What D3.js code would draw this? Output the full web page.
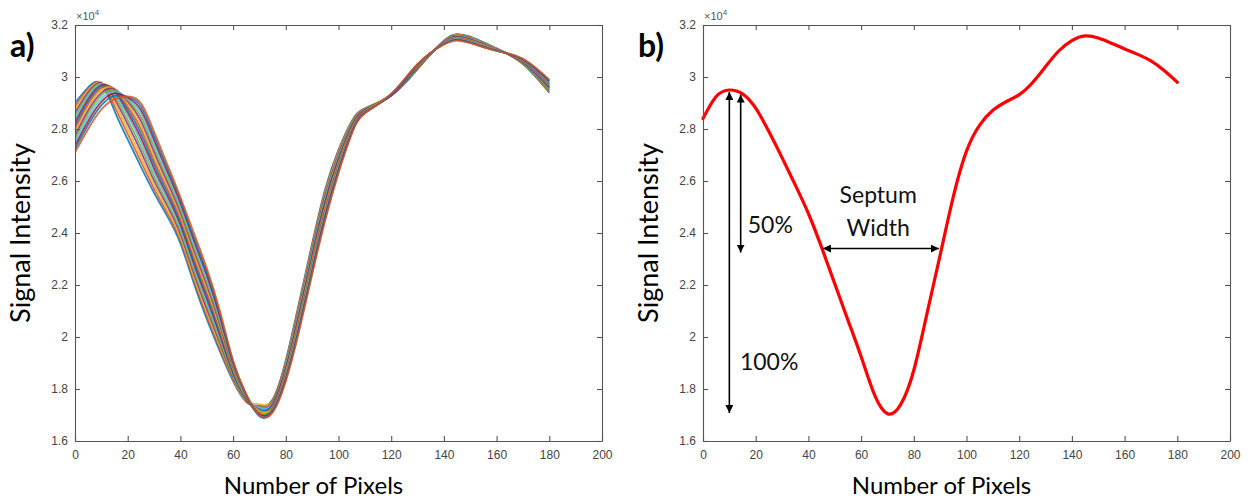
<!DOCTYPE html>
<html>
<head>
<meta charset="utf-8">
<script src="https://cdn.jsdelivr.net/npm/d3@7"></script>
<style>
  html, body { margin: 0; padding: 0; background: #fff; }
  svg { display: block; }
</style>
</head>
<body>
<svg id="chart" width="1254" height="501"></svg>
<script>
// ---------------- DATA (signal intensity in units of 10^4) ----------------
const pixelsA = [0,5,10,15,20,25,30,35,40,45,50,55,60,65,70,75,80,85,90,95,100,105,110,120,130,140,145,150,160,170,180];

const seriesA01 = [2.900,2.960,2.975,2.870,2.760,2.655,2.555,2.465,2.360,2.210,2.070,1.945,1.830,1.750,1.735,1.760,1.910,2.130,2.360,2.570,2.720,2.830,2.880,2.928,3.030,3.140,3.165,3.155,3.110,3.050,2.940];
const seriesA02 = [2.887,2.954,2.977,2.888,2.781,2.675,2.571,2.478,2.372,2.223,2.083,1.955,1.835,1.752,1.730,1.757,1.905,2.123,2.352,2.562,2.714,2.827,2.879,2.930,3.031,3.139,3.163,3.153,3.109,3.051,2.943];
const seriesA03 = [2.875,2.948,2.978,2.904,2.800,2.695,2.586,2.492,2.384,2.235,2.096,1.966,1.841,1.754,1.742,1.753,1.899,2.115,2.344,2.554,2.708,2.823,2.877,2.931,3.033,3.138,3.162,3.152,3.109,3.053,2.947];
const seriesA04 = [2.862,2.941,2.977,2.917,2.819,2.714,2.602,2.505,2.396,2.248,2.109,1.976,1.846,1.756,1.725,1.750,1.894,2.108,2.336,2.546,2.702,2.820,2.876,2.929,3.034,3.137,3.160,3.150,3.108,3.054,2.950];
const seriesA05 = [2.849,2.933,2.975,2.929,2.835,2.732,2.618,2.518,2.408,2.261,2.122,1.986,1.851,1.758,1.718,1.747,1.889,2.101,2.328,2.538,2.696,2.817,2.875,2.932,3.035,3.136,3.158,3.148,3.107,3.055,2.953];
const seriesA06 = [2.837,2.925,2.973,2.938,2.851,2.750,2.633,2.532,2.420,2.273,2.135,1.997,1.857,1.760,1.728,1.743,1.883,2.093,2.320,2.530,2.690,2.813,2.873,2.930,3.037,3.135,3.157,3.147,3.107,3.057,2.957];
const seriesA07 = [2.824,2.915,2.969,2.946,2.864,2.767,2.649,2.545,2.432,2.286,2.148,2.007,1.862,1.762,1.712,1.740,1.878,2.086,2.312,2.522,2.684,2.810,2.872,2.933,3.038,3.134,3.155,3.145,3.106,3.058,2.960];
const seriesA08 = [2.811,2.905,2.963,2.951,2.877,2.784,2.665,2.558,2.444,2.299,2.161,2.017,1.867,1.764,1.720,1.737,1.873,2.079,2.304,2.514,2.678,2.807,2.871,2.931,3.039,3.133,3.153,3.143,3.105,3.059,2.963];
const seriesA09 = [2.799,2.895,2.957,2.954,2.888,2.801,2.680,2.572,2.456,2.311,2.174,2.027,1.873,1.766,1.705,1.733,1.867,2.071,2.296,2.506,2.672,2.803,2.869,2.934,3.041,3.132,3.152,3.142,3.105,3.061,2.967];
const seriesA10 = [2.786,2.883,2.949,2.955,2.897,2.816,2.696,2.585,2.468,2.324,2.187,2.038,1.878,1.768,1.715,1.730,1.862,2.064,2.288,2.498,2.666,2.800,2.868,2.932,3.042,3.131,3.150,3.140,3.104,3.062,2.970];
const seriesA11 = [2.773,2.871,2.939,2.953,2.906,2.831,2.712,2.598,2.480,2.337,2.200,2.048,1.883,1.770,1.700,1.727,1.857,2.057,2.280,2.490,2.660,2.797,2.867,2.930,3.043,3.130,3.148,3.138,3.103,3.063,2.973];
const seriesA12 = [2.761,2.859,2.929,2.950,2.912,2.847,2.727,2.612,2.492,2.349,2.213,2.058,1.889,1.772,1.708,1.723,1.851,2.049,2.272,2.482,2.654,2.793,2.865,2.935,3.045,3.129,3.147,3.137,3.103,3.065,2.977];
const seriesA13 = [2.748,2.845,2.917,2.944,2.918,2.861,2.743,2.625,2.504,2.362,2.226,2.069,1.894,1.774,1.698,1.720,1.846,2.042,2.264,2.474,2.648,2.790,2.864,2.933,3.046,3.128,3.145,3.135,3.102,3.066,2.980];
const seriesA14 = [2.735,2.830,2.904,2.937,2.921,2.874,2.759,2.638,2.516,2.375,2.239,2.079,1.899,1.776,1.703,1.717,1.841,2.035,2.256,2.466,2.642,2.787,2.863,2.931,3.047,3.127,3.143,3.133,3.101,3.067,2.983];
const seriesA15 = [2.723,2.816,2.891,2.927,2.924,2.888,2.774,2.652,2.528,2.387,2.252,2.089,1.905,1.778,1.695,1.713,1.835,2.027,2.248,2.458,2.636,2.783,2.861,2.934,3.049,3.126,3.142,3.132,3.101,3.069,2.987];
const seriesA16 = [2.710,2.800,2.875,2.915,2.925,2.900,2.790,2.665,2.538,2.403,2.265,2.100,1.910,1.780,1.700,1.710,1.830,2.020,2.240,2.450,2.630,2.780,2.860,2.935,3.050,3.125,3.140,3.130,3.100,3.070,2.990];

const pixelsB = [0,5,10,15,20,25,30,35,40,45,50,55,60,65,70,75,80,85,90,95,100,105,110,115,120,125,130,135,140,145,150,155,160,165,170,175,180];
const intensityB = [2.840,2.925,2.950,2.935,2.880,2.790,2.690,2.585,2.475,2.345,2.205,2.065,1.925,1.780,1.705,1.740,1.872,2.090,2.315,2.540,2.715,2.815,2.872,2.905,2.932,2.978,3.040,3.100,3.140,3.158,3.150,3.130,3.108,3.087,3.062,3.025,2.980];

const xTicks = [0,20,40,60,80,100,120,140,160,180,200];
const yTicks = [1.6,1.8,2.0,2.2,2.4,2.6,2.8,3.0,3.2];
const yTickLabels = ["1.6","1.8","2","2.2","2.4","2.6","2.8","3","3.2"];
const matlabColors = ["#0072BD","#D95319","#EDB120","#7E2F8E","#77AC30","#4DBEEE","#A2142F"];

// annotation values for panel b
const peakPixel = 10, peakValue = 2.95;
const halfPixel = 14.3, halfTopValue = 2.94;
const minValue = 1.70;
const halfLevel = 2.325;
const septumLeft = 45.5, septumRight = 89.5;

const seriesA = [seriesA01,seriesA02,seriesA03,seriesA04,seriesA05,seriesA06,seriesA07,seriesA08,
                 seriesA09,seriesA10,seriesA11,seriesA12,seriesA13,seriesA14,seriesA15,seriesA16];

// ---------------- LAYOUT ----------------
const svg = d3.select("#chart");
const plotTop = 25, plotBottom = 441;
const panels = [{left: 75, right: 602, label: "a)"}, {left: 703, right: 1230, label: "b)"}];
const titleFont = "Lato, 'Open Sans', sans-serif";
const tickFont = "'Liberation Sans', Arial, sans-serif";

const defs = svg.append("defs");
defs.append("marker").attr("id", "arrow")
  .attr("viewBox", "0 0 10 10").attr("refX", 10).attr("refY", 5)
  .attr("markerWidth", 8).attr("markerHeight", 8)
  .attr("markerUnits", "userSpaceOnUse")
  .attr("orient", "auto-start-reverse")
  .append("path").attr("d", "M0,0 L10,5 L0,10 z").attr("fill", "#000");

function drawPanel(p, idx) {
  const x = d3.scaleLinear().domain([0, 200]).range([p.left, p.right]);
  const y = d3.scaleLinear().domain([1.6, 3.2]).range([plotBottom, plotTop]);
  const g = svg.append("g");

  const line = d3.line()
    .x((d) => x(d[0])).y((d) => y(d[1]))
    .curve(d3.curveNatural);

  const clip = "clip" + idx;
  defs.append("clipPath").attr("id", clip).append("rect")
    .attr("x", p.left).attr("y", plotTop).attr("width", p.right - p.left).attr("height", plotBottom - plotTop);

  if (idx === 0) {
    g.append("g").attr("clip-path", `url(#${clip})`)
      .selectAll("path").data(seriesA).join("path")
      .attr("d", (s) => line(pixelsA.map((px, i) => [px, s[i]])))
      .attr("fill", "none")
      .attr("stroke", (s, i) => matlabColors[i % matlabColors.length])
      .attr("stroke-width", 1.8)
      .attr("stroke-opacity", 0.85);
  } else {
    g.append("path")
      .attr("d", line(pixelsB.map((px, i) => [px, intensityB[i]])))
      .attr("fill", "none").attr("stroke", "#ff0000").attr("stroke-width", 3.2)
      .attr("stroke-linecap", "round");

    const ann = g.append("g").attr("stroke", "#000").attr("stroke-width", 1.6);
    ann.append("line")
      .attr("x1", x(peakPixel)).attr("x2", x(peakPixel))
      .attr("y1", y(peakValue) + 2).attr("y2", y(minValue) - 2)
      .attr("marker-start", "url(#arrow)").attr("marker-end", "url(#arrow)");
    ann.append("line")
      .attr("x1", x(halfPixel)).attr("x2", x(halfPixel))
      .attr("y1", y(halfTopValue) + 2).attr("y2", y(halfLevel))
      .attr("marker-start", "url(#arrow)").attr("marker-end", "url(#arrow)");
    ann.append("line")
      .attr("x1", x(septumLeft)).attr("x2", x(septumRight))
      .attr("y1", y(halfLevel) - 4).attr("y2", y(halfLevel) - 4)
      .attr("marker-start", "url(#arrow)").attr("marker-end", "url(#arrow)");

    const t = g.append("g").attr("font-family", titleFont).attr("font-size", 23).attr("fill", "#111");
    t.append("text").attr("x", x(17)).attr("y", y(2.4)).text("50%");
    t.append("text").attr("x", x(14)).attr("y", y(1.873)).text("100%");
    t.append("text").attr("x", x(66.5)).attr("y", y(2.515)).attr("text-anchor", "middle").text("Septum");
    t.append("text").attr("x", x(66.5)).attr("y", y(2.388)).attr("text-anchor", "middle").text("Width");
  }

  // axes (box with inward ticks)
  const axisColor = "#555";
  const bottomAxis = d3.axisBottom(x).tickValues(xTicks).tickSizeInner(-5).tickSizeOuter(0).tickPadding(9);
  const leftAxis = d3.axisLeft(y).tickValues(yTicks).tickSizeInner(-5).tickSizeOuter(0).tickPadding(7)
    .tickFormat((d, i) => yTickLabels[i]);
  const topAxis = d3.axisTop(x).tickValues(xTicks).tickSizeInner(-5).tickSizeOuter(0).tickFormat("");
  const rightAxis = d3.axisRight(y).tickValues(yTicks).tickSizeInner(-5).tickSizeOuter(0).tickFormat("");

  const axes = [
    g.append("g").attr("transform", `translate(0,${plotBottom})`).call(bottomAxis),
    g.append("g").attr("transform", `translate(${p.left},0)`).call(leftAxis),
    g.append("g").attr("transform", `translate(0,${plotTop})`).call(topAxis),
    g.append("g").attr("transform", `translate(${p.right},0)`).call(rightAxis)
  ];
  axes.forEach((a) => {
    a.selectAll("path,line").attr("stroke", axisColor).attr("stroke-width", 1.1);
    a.selectAll("text").attr("fill", "#444").attr("font-family", tickFont).attr("font-size", 12);
  });

  // exponent label
  const ex = g.append("text").attr("x", p.left + 1).attr("y", 20)
    .attr("font-family", tickFont).attr("font-size", 11).attr("fill", "#555");
  ex.append("tspan").text("×10");
  ex.append("tspan").attr("font-size", 8).attr("dy", -5).text("4");

  // titles
  g.append("text").attr("x", (p.left + p.right) / 2 - 25).attr("y", 494)
    .attr("text-anchor", "middle").attr("font-family", titleFont).attr("font-size", 24).attr("fill", "#000")
    .text("Number of Pixels");
  g.append("text")
    .attr("transform", `translate(${p.left - 45},${(plotTop + plotBottom) / 2}) rotate(-90)`)
    .attr("text-anchor", "middle").attr("font-family", titleFont).attr("font-size", 27).attr("fill", "#000")
    .text("Signal Intensity");
  g.append("text").attr("x", p.left - 65).attr("y", 57)
    .attr("font-family", titleFont).attr("font-weight", "bold").attr("font-size", 32).attr("fill", "#000")
    .text(p.label);
}

panels.forEach(drawPanel);
</script>
</body>
</html>
